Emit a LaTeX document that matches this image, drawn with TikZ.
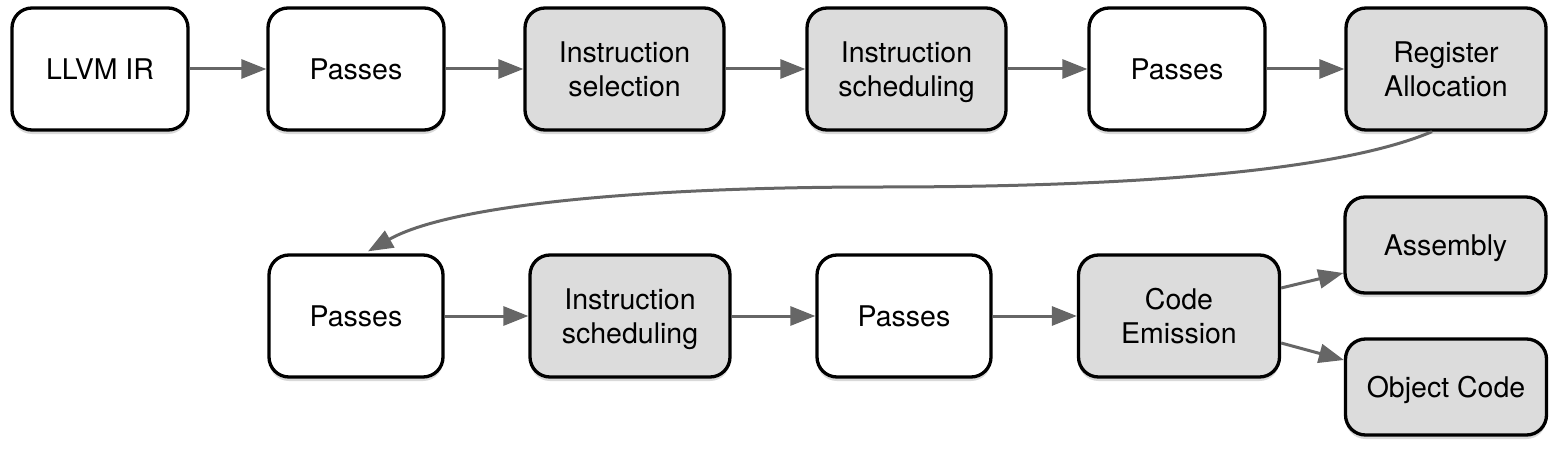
\documentclass[tikz,border=0pt]{standalone}
\usepackage{fontspec}
\setmainfont{TeX Gyre Heros}
\usetikzlibrary{arrows.meta,calc,shadows}
\definecolor{boxgray}{HTML}{DCDCDC}
\definecolor{arrowgray}{HTML}{666666}
\tikzset{
  box/.style={draw=black, line width=3.3pt, rounded corners=20pt, fill=white,
    minimum height=122pt, inner sep=0pt, align=center, text depth=0pt,
    font=\fontsize{28.5}{34}\selectfont,
    drop shadow={shadow xshift=0pt, shadow yshift=-4pt, opacity=0.15, fill=black}},
  graybox/.style={box, fill=boxgray},
  flow/.style={draw=arrowgray, line width=3pt, -{Triangle[length=25pt,width=19pt]}}
}
\begin{document}
\begin{tikzpicture}[x=1pt,y=-1pt]
\useasboundingbox (0,0) rectangle (1558,452);
% row 1
\node[box, minimum width=176pt] (llvm) at (100,69) {LLVM IR};
\node[box, minimum width=176pt] (p1) at (356,69) {Passes};
\node[graybox, minimum width=199pt] (isel) at (624.5,69) {Instruction\\selection};
\node[graybox, minimum width=199pt] (isch) at (906.5,69) {Instruction\\scheduling};
\node[box, minimum width=176pt] (p2) at (1177,69) {Passes};
\node[graybox, minimum width=200pt] (ra) at (1446,69) {Register\\Allocation};
% row 2
\node[box, minimum width=174pt] (p3) at (356,316) {Passes};
\node[graybox, minimum width=200pt] (isch2) at (630,316) {Instruction\\scheduling};
\node[box, minimum width=174pt] (p4) at (904,316) {Passes};
\node[graybox, minimum width=201pt] (ce) at (1179,316) {Code\\Emission};
\node[graybox, minimum width=201pt, minimum height=96pt] (asm) at (1445.5,245) {Assembly};
\node[graybox, minimum width=201pt, minimum height=96pt] (obj) at (1446,387) {Object Code};
% connectors
\draw[flow] (llvm) -- (p1);
\draw[flow] (p1) -- (isel);
\draw[flow] (isel) -- (isch);
\draw[flow] (isch) -- (p2);
\draw[flow] (p2) -- (ra);
\coordinate (mid) at (880,187);
\draw[flow] ($(ra.south)+(-14,0)$) .. controls (1330,175) and (1100,187) .. (mid)
  .. controls (640,187) and (450,205) .. ($(p3.north)+(12,-2)$);
\draw[flow] (p3) -- (isch2);
\draw[flow] (isch2) -- (p4);
\draw[flow] (p4) -- (ce);
\draw[flow] ($(ce.east)+(0,-28)$) -- ($(asm.west)+(0,28)$);
\draw[flow] ($(ce.east)+(0,27)$) -- ($(obj.west)+(0,-27)$);
\end{tikzpicture}
\end{document}
